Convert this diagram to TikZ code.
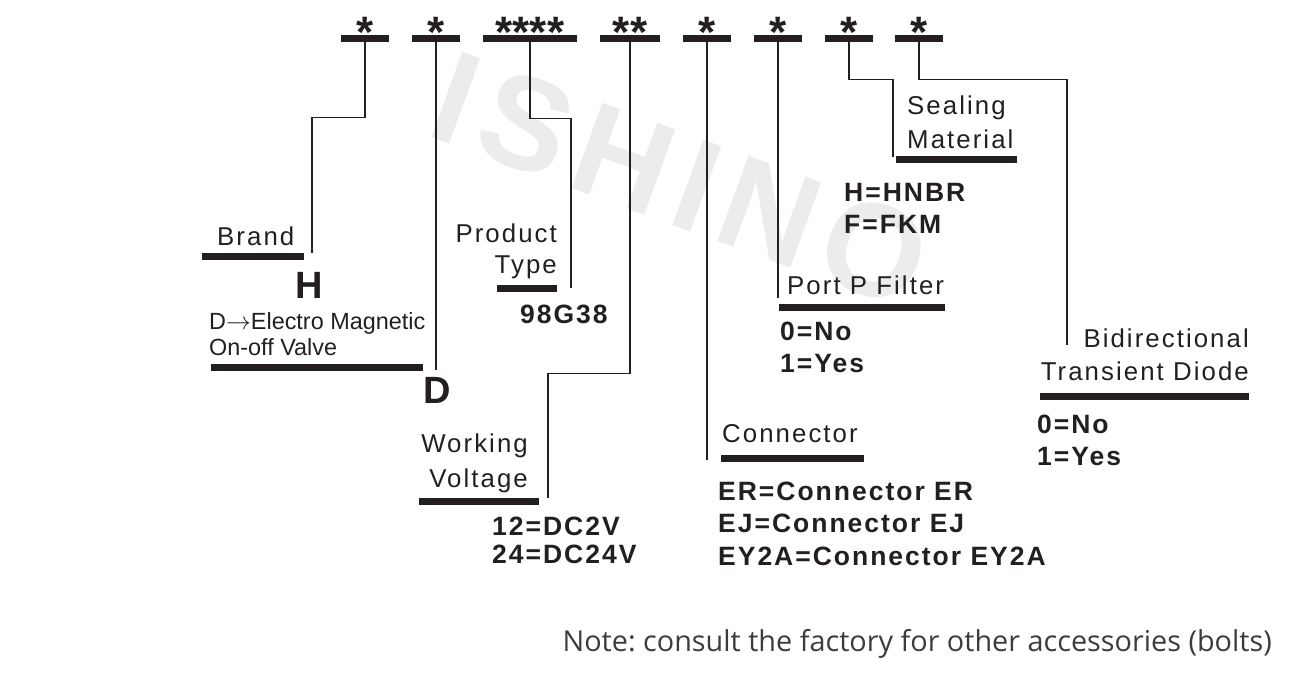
\documentclass[tikz,border=0pt]{standalone}
\usepackage{fontspec}
\setmainfont{Liberation Sans}
\newfontfamily\labelfont[LetterSpace=8]{Liberation Sans}
\newfontfamily\valuefont[LetterSpace=7.5]{Liberation Sans}
\newfontfamily\logofont[LetterSpace=9]{Liberation Sans}
\newfontfamily\notefont{Open Sans}
\usetikzlibrary{positioning}
\definecolor{ink}{RGB}{35,31,32}
\definecolor{wmgray}{RGB}{236,236,236}
\definecolor{notegray}{RGB}{60,60,60}
\frenchspacing
\tikzset{
  fieldbar/.style={fill=ink, inner sep=0pt, minimum height=7pt},
  leadline/.style={ink, line width=1.4pt},
  fieldname/.style={font=\labelfont\fontsize{25.8}{30}\selectfont, text=ink, inner sep=0pt},
  fieldvalue/.style={font=\valuefont\bfseries\fontsize{26.5}{30}\selectfont, text=ink, inner sep=0pt},
  bigvalue/.style={font=\bfseries\fontsize{38}{40}\selectfont, text=ink, inner sep=0pt, anchor=base},
  codestar/.style={font=\bfseries\fontsize{44}{50}\selectfont, text=ink, inner sep=0pt, anchor=base},
}

\begin{document}
\begin{tikzpicture}[x=1pt, y=-1pt]
        \useasboundingbox (0,0) rectangle (1293,673);
        % Watermark
        \node[font=\logofont\bfseries\fontsize{132}{132}\selectfont, text=wmgray, rotate=-20] (logo) at (681,180) {ISHINO};
        % Code fields
        \node[fieldbar, minimum width=48pt] (t1) at (365,38.5) {};
        \node[fieldbar, minimum width=48pt] (t2) at (436,38.5) {};
        \node[fieldbar, minimum width=94pt] (t3) at (530,38.5) {};
        \node[fieldbar, minimum width=60pt] (t4) at (630,38.5) {};
        \node[fieldbar, minimum width=48pt] (t5) at (707,38.5) {};
        \node[fieldbar, minimum width=48pt] (t6) at (778,38.5) {};
        \node[fieldbar, minimum width=48pt] (t7) at (849,38.5) {};
        \node[fieldbar, minimum width=48pt] (t8) at (919,38.5) {};
        \node[codestar] (s1) at ([yshift=-13pt]t1.north) {*};
        \node[codestar] (s2) at ([yshift=-13pt]t2.north) {*};
        \node[codestar] (s3) at ([yshift=-13pt]t3.north) {****};
        \node[codestar] (s4) at ([yshift=-13pt]t4.north) {**};
        \node[codestar] (s5) at ([yshift=-13pt]t5.north) {*};
        \node[codestar] (s6) at ([yshift=-13pt]t6.north) {*};
        \node[codestar] (s7) at ([yshift=-13pt]t7.north) {*};
        \node[codestar] (s8) at ([yshift=-13pt]t8.north) {*};
        % Brand
        \node[fieldname, anchor=base west] (brand) at (217,245) {Brand};
        \node[fieldbar, minimum width=102pt] (brandbar) at (253,256.5) {};
        \node[bigvalue] (brandval) at (309.5,298) {H};
        \node[fieldname, anchor=base west, font=\fontsize{23.4}{26}\selectfont] (kind1) at (209,329) {D$\rightarrow$Electro Magnetic};
        \node[fieldname, anchor=base west, font=\fontsize{23.4}{26}\selectfont] (kind2) at (209,355) {On-off Valve};
        \node[fieldbar, minimum width=212pt] (kindbar) at (317,367.5) {};
        \node[bigvalue] (kindval) at (437.5,403) {D};
        % Product type
        \node[fieldname, anchor=base east] (prod1) at (557,242) {Product};
        \node[fieldname, anchor=base east] (prod2) at (557,273) {Type};
        \node[fieldbar, minimum width=60pt] (prodbar) at (527,288) {};
        \node[fieldvalue, anchor=base west] (prodval) at (520,323) {98G38};
        % Working voltage
        \node[fieldname, anchor=base east] (volt1) at (528,452) {Working};
        \node[fieldname, anchor=base east] (volt2) at (528,487) {Voltage};
        \node[fieldbar, minimum width=120pt] (voltbar) at (479,501) {};
        \node[fieldvalue, anchor=base west] (voltval1) at (492,535) {12=DC2V};
        \node[fieldvalue, anchor=base west] (voltval2) at (492,563) {24=DC24V};
        % Connector
        \node[fieldname, anchor=base west] (conn) at (722,442) {Connector};
        \node[fieldbar, minimum width=143pt] (connbar) at (792.5,458.5) {};
        \node[fieldvalue, anchor=base west] (connval1) at (718,500) {ER=Connector ER};
        \node[fieldvalue, anchor=base west] (connval2) at (718,532) {EJ=Connector EJ};
        \node[fieldvalue, anchor=base west] (connval3) at (718,565) {EY2A=Connector EY2A};
        % Port P filter
        \node[fieldname, anchor=base west] (port) at (787,294) {Port P Filter};
        \node[fieldbar, minimum width=166pt] (portbar) at (862,307) {};
        \node[fieldvalue, anchor=base west] (portval1) at (780,340) {0=No};
        \node[fieldvalue, anchor=base west] (portval2) at (780,372) {1=Yes};
        % Sealing material
        \node[fieldname, anchor=base west] (seal1) at (907,114) {Sealing};
        \node[fieldname, anchor=base west] (seal2) at (907,148) {Material};
        \node[fieldbar, minimum width=121pt] (sealbar) at (956.5,159.5) {};
        \node[fieldvalue, anchor=base west] (sealval1) at (844,201) {H=HNBR};
        \node[fieldvalue, anchor=base west] (sealval2) at (844,233) {F=FKM};
        % Transient diode
        \node[fieldname, anchor=base east] (diode1) at (1249,347) {Bidirectional};
        \node[fieldname, anchor=base east] (diode2) at (1249,380) {Transient Diode};
        \node[fieldbar, minimum width=209pt] (diodebar) at (1144.5,396) {};
        \node[fieldvalue, anchor=base west] (diodeval1) at (1037,433) {0=No};
        \node[fieldvalue, anchor=base west] (diodeval2) at (1037,465) {1=Yes};
        % Lead ends
        \coordinate (brandend) at (312,253);
        \coordinate (kindend) at (436,370);
        \coordinate (prodend) at (571,288);
        \coordinate (voltend) at (548,498);
        \coordinate (connend) at (707,460);
        \coordinate (portend) at (778,298);
        \coordinate (sealend) at (893,157);
        \coordinate (diodeend) at (1067,345);
        % Leads
        \draw[leadline] (t1.south) -- ++(0,75) -| (brandend);
        \draw[leadline] (t2.south) -- (kindend);
        \draw[leadline] (t3.south) -- ++(0,76) -| (prodend);
        \draw[leadline] (t4.south) -- ++(0,331) -| (voltend);
        \draw[leadline] (t5.south) -- (connend);
        \draw[leadline] (t6.south) -- (portend);
        \draw[leadline] (t7.south) -- ++(0,37) -| (sealend);
        \draw[leadline] (t8.south) -- ++(0,37) -| (diodeend);
        % Note
        \node[font=\notefont\fontsize{28.8}{32}\selectfont, text=notegray, anchor=base east, inner sep=0pt] (note) at (1272,651)
          {Note: consult the factory for other accessories (bolts)};
\end{tikzpicture}
\end{document}
